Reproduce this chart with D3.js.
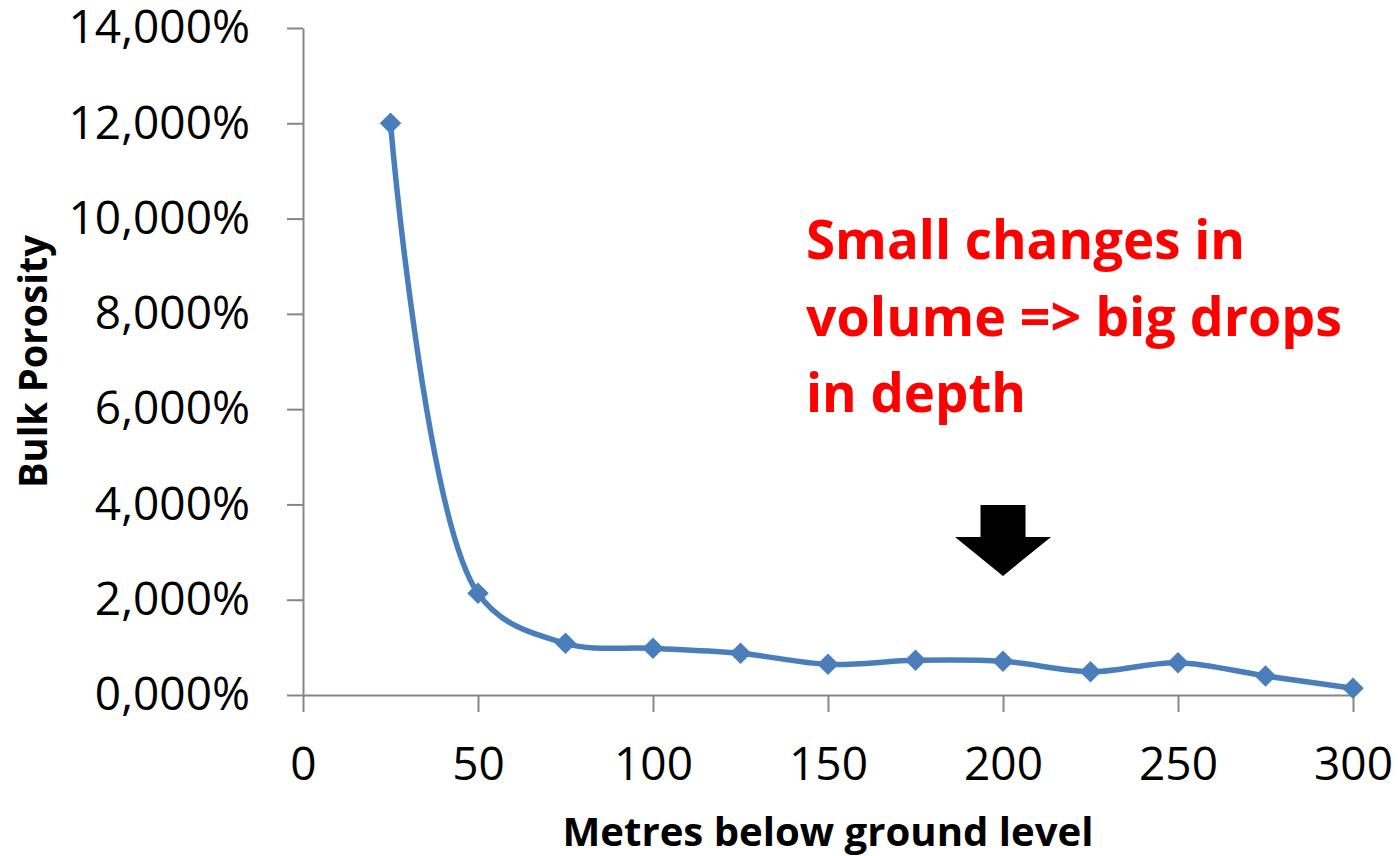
<!DOCTYPE html>
<html>
<head>
<meta charset="utf-8">
<script src="https://cdn.jsdelivr.net/npm/d3@7"></script>
<style>
  html, body { margin: 0; padding: 0; background: #ffffff; }
  svg { display: block; }
</style>
</head>
<body>
<svg id="chart" width="1398" height="856"></svg>
<script>
// Depth below ground (m) and bulk porosity (%) at each depth
const depths   = [25, 50, 75, 100, 125, 150, 175, 200, 225, 250, 275, 300];
const porosity = [12.0, 2.135, 1.085, 0.98, 0.875, 0.644, 0.728, 0.707, 0.489, 0.678, 0.399, 0.141];

// Axis tick values
const xTicks = [0, 50, 100, 150, 200, 250, 300];
const yTicks = [0, 2, 4, 6, 8, 10, 12, 14];

// Annotation
const noteLines = ["Small changes in", "volume => big drops", "in depth"];
const arrowDepth = 200;    // depth the arrow points at
const arrowTipValue = 2.5; // porosity level of the arrow tip

const svg = d3.select("#chart");
const W = 1398, H = 856;
const margin = { left: 303, right: 45, top: 28, bottom: 161 };

const x = d3.scaleLinear().domain([0, 300]).range([margin.left, W - margin.right]);
const y = d3.scaleLinear().domain([0, 14]).range([H - margin.bottom, margin.top]);

// Decimal comma, as used by the labels
const locale = d3.formatLocale({ decimal: ",", thousands: ".", grouping: [3], currency: ["", "€"] });
const fmt = locale.format(".3f");

const axisColor = "#868686";
const tickFont = "'Open Sans', 'Liberation Sans', sans-serif";

// Y axis
const yAxis = svg.append("g")
  .attr("transform", `translate(${x(0)},0)`)
  .call(d3.axisLeft(y).tickValues(yTicks).tickSize(16).tickSizeOuter(0).tickPadding(37)
    .tickFormat(d => fmt(d) + "%"));

// X axis
const xAxis = svg.append("g")
  .attr("transform", `translate(0,${y(0)})`)
  .call(d3.axisBottom(x).tickValues(xTicks).tickSize(17).tickSizeOuter(0).tickPadding(35));

[yAxis, xAxis].forEach(g => {
  g.select(".domain").attr("stroke", axisColor).attr("stroke-width", 2);
  g.selectAll(".tick line").attr("stroke", axisColor).attr("stroke-width", 2);
  g.selectAll(".tick text")
    .attr("fill", "#000")
    .style("font-family", tickFont)
    .style("font-size", "46px");
});

// Axis titles
svg.append("text")
  .attr("x", (x(0) + x(300)) / 2)
  .attr("y", 846)
  .attr("text-anchor", "middle")
  .attr("textLength", 531)
  .attr("lengthAdjust", "spacingAndGlyphs")
  .style("font-family", tickFont)
  .style("font-weight", "bold")
  .style("font-size", "40px")
  .text("Metres below ground level");

svg.append("text")
  .attr("transform", `translate(47,${(y(0) + y(14)) / 2}) rotate(-90)`)
  .attr("text-anchor", "middle")
  .attr("textLength", 253)
  .attr("lengthAdjust", "spacingAndGlyphs")
  .style("font-family", tickFont)
  .style("font-weight", "bold")
  .style("font-size", "40px")
  .text("Bulk Porosity");

// Series line
const pts = depths.map((d, i) => [d, porosity[i]]);
const line = d3.line()
  .x(d => x(d[0]))
  .y(d => y(d[1]))
  .curve(d3.curveCatmullRom.alpha(0.5));

svg.append("path")
  .datum(pts)
  .attr("d", line)
  .attr("fill", "none")
  .attr("stroke", "#4A7EBB")
  .attr("stroke-width", 5.5)
  .attr("stroke-linejoin", "round");

// Diamond markers
const diamond = d3.symbol().type(d3.symbolSquare).size(230);
svg.append("g").selectAll("path")
  .data(pts)
  .join("path")
  .attr("d", diamond)
  .attr("transform", d => `translate(${x(d[0])},${y(d[1])}) rotate(45)`)
  .attr("fill", "#4A7EBB");

// Annotation text
svg.append("g")
  .selectAll("text")
  .data(noteLines)
  .join("text")
  .attr("x", 806)
  .attr("y", (d, i) => 259 + i * 76.5)
  .attr("textLength", (d, i) => [439, 536, 220][i])
  .attr("lengthAdjust", "spacingAndGlyphs")
  .attr("fill", "#FF0000")
  .style("font-family", tickFont)
  .style("font-weight", "bold")
  .style("font-size", "53px")
  .text(d => d);

// Down arrow pointing at the chosen depth
const ax = x(arrowDepth), ay = y(arrowTipValue);
const arrowPts = [
  [ax - 22.5, ay - 71], [ax + 22.5, ay - 71], [ax + 22.5, ay - 39],
  [ax + 48, ay - 39], [ax, ay], [ax - 48, ay - 39], [ax - 22.5, ay - 39]
];
svg.append("path")
  .attr("d", d3.line()(arrowPts) + "Z")
  .attr("fill", "#000");
</script>
</body>
</html>
